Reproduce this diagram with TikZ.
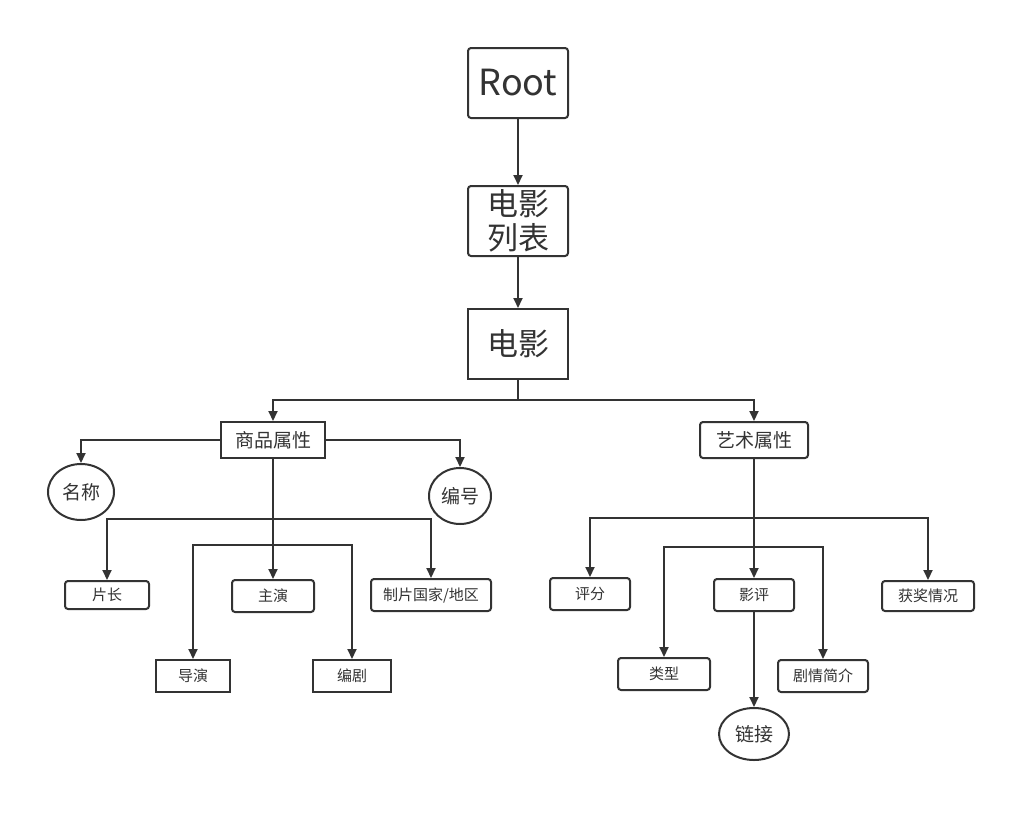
\documentclass[tikz,border=0pt]{standalone}
\usepackage{fontspec}
\setmainfont{Noto Sans CJK SC}
\usetikzlibrary{arrows.meta,shapes.geometric}
\definecolor{ink}{HTML}{333333}
\tikzset{
  box/.style={draw=ink, line width=2pt, fill=white, text=ink, inner sep=0pt, align=center},
  rbox/.style={box, rounded corners=3pt},
  oval/.style={draw=ink, line width=2pt, fill=white, text=ink, ellipse, inner sep=0pt},
  big/.style={font=\fontsize{36}{40}\selectfont},
  mid/.style={font=\fontsize{31}{34}\selectfont},
  lab/.style={font=\fontsize{19}{22}\selectfont},
  sml/.style={font=\fontsize{15}{18}\selectfont},
  wire/.style={draw=ink, line width=2pt},
  arr/.style={wire, -{Triangle[length=10pt,width=9pt]}},
}
\begin{document}
\begin{tikzpicture}[x=1pt, y=-1pt]
\useasboundingbox (0,0) rectangle (1036,822);

% top chain
\node[rbox, big, minimum width=100pt, minimum height=70pt] (root) at (518,83) {Root};
\node[rbox, mid, minimum width=100pt, minimum height=70pt] (list) at (518,221) {电影\\列表};
\node[box, mid, minimum width=100pt, minimum height=70pt] (movie) at (518,344) {电影};

% attribute groups
\node[box, lab, minimum width=104pt, minimum height=36pt] (goods) at (273,440) {商品属性};
\node[rbox, lab, minimum width=108pt, minimum height=36pt] (art) at (754,440) {艺术属性};

% commercial attributes
\node[oval, lab, minimum width=66pt, minimum height=56pt] (name) at (81,492) {名称};
\node[oval, lab, minimum width=62pt, minimum height=56pt] (code) at (460,496) {编号};
\node[rbox, sml, minimum width=84pt, minimum height=28pt] (length) at (107,595) {片长};
\node[rbox, sml, minimum width=82pt, minimum height=32pt] (lead) at (273,596) {主演};
\node[rbox, sml, minimum width=120pt, minimum height=32pt] (country) at (431,595) {制片国家/地区};
\node[box, sml, minimum width=74pt, minimum height=32pt] (director) at (193,676) {导演};
\node[box, sml, minimum width=78pt, minimum height=32pt] (writer) at (352,676) {编剧};

% artistic attributes
\node[rbox, sml, minimum width=80pt, minimum height=32pt] (score) at (590,594) {评分};
\node[rbox, sml, minimum width=80pt, minimum height=32pt] (review) at (754,595) {影评};
\node[rbox, sml, minimum width=92pt, minimum height=30pt] (award) at (928,596) {获奖情况};
\node[rbox, sml, minimum width=92pt, minimum height=32pt] (genre) at (664,674) {类型};
\node[rbox, sml, minimum width=90pt, minimum height=32pt] (plot) at (823,676) {剧情简介};
\node[oval, lab, minimum width=70pt, minimum height=52pt] (link) at (754,734) {链接};

% junction points
\coordinate (mj) at (518,400);
\coordinate (gj1) at (273,519);
\coordinate (gj2) at (273,545);
\coordinate (aj1) at (754,518);
\coordinate (aj2) at (754,547);

% connectors
\draw[arr] (root) -- (list);
\draw[arr] (list) -- (movie);
\draw[wire] (movie) -- (mj);
\draw[arr] (mj) -| (goods);
\draw[arr] (mj) -| (art);

\draw[arr] (goods.west) -| (name);
\draw[arr] (goods.east) -| (code);
\draw[arr] (goods) -- (lead);
\draw[arr] (gj1) -| (length);
\draw[arr] (gj1) -| (country);
\draw[arr] (gj2) -| (director);
\draw[arr] (gj2) -| (writer);

\draw[arr] (art) -- (review);
\draw[arr] (aj1) -| (score);
\draw[arr] (aj1) -| (award);
\draw[arr] (aj2) -| (genre);
\draw[arr] (aj2) -| (plot);
\draw[arr] (review) -- (link);
\end{tikzpicture}
\end{document}
